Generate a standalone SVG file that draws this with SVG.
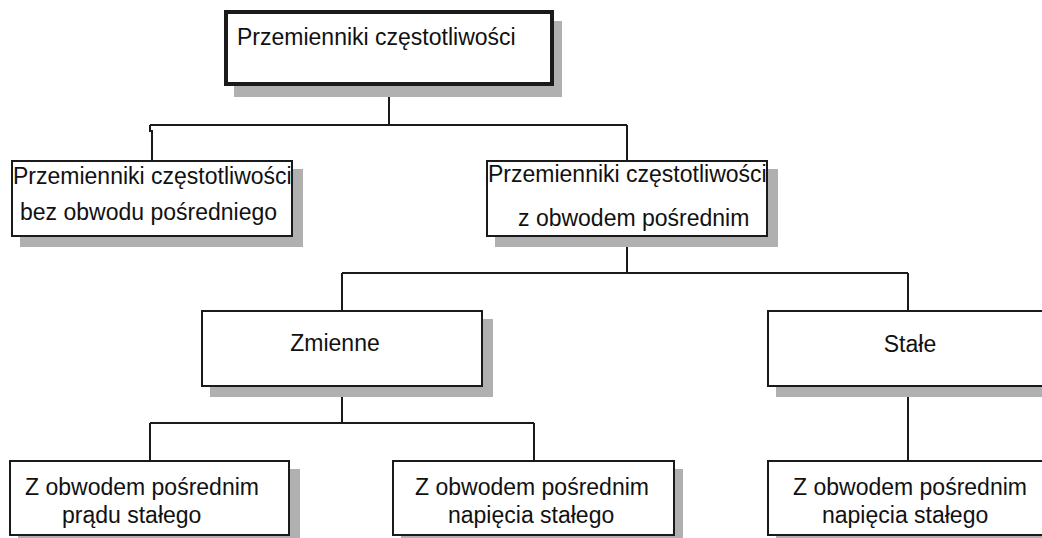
<svg xmlns="http://www.w3.org/2000/svg" width="1042" height="538" viewBox="0 0 1042 538">
<style>
.box{fill:#fff;stroke:#1a1a1a;stroke-width:2}
.thick{stroke-width:4}
.sh{fill:#b0b0b0;stroke:none}
.t{font-family:"Liberation Sans",Arial,sans-serif;font-size:23px;fill:#111}
.c{text-anchor:middle}
.ln{fill:none;stroke:#1a1a1a;stroke-width:2}
</style>
<rect width="1042" height="538" fill="#fff"/>
<g id="connectors">
<path class="ln" d="M389 84 V125 M150 125 H627 M150 125 V131 H152 V161 M627 125 V161"/>
<path class="ln" d="M627 236 V273 M342 273 H908 M342 273 V311 M908 273 V311"/>
<path class="ln" d="M342 386 V423 M150 423 H534 M150 423 V461 M534 423 V461"/>
<path class="ln" d="M908 386 V461"/>
</g>
<g id="root">
<rect class="sh" x="234" y="21" width="328" height="76"/>
<rect class="box thick" x="226" y="12" width="326" height="72"/>
<text class="t" x="237" y="45">Przemienniki częstotliwości</text>
</g>
<g id="bez">
<rect class="sh" x="20" y="169" width="283" height="78"/>
<rect class="box" x="12" y="161" width="280" height="75"/>
<text class="t" x="13" y="184">Przemienniki częstotliwości</text>
<text class="t" x="20" y="220">bez obwodu pośredniego</text>
</g>
<g id="z">
<rect class="sh" x="495" y="169" width="283" height="78"/>
<rect class="box" x="487" y="161" width="280" height="75"/>
<text class="t" x="488" y="182">Przemienniki częstotliwości</text>
<text class="t" x="518" y="226">z obwodem pośrednim</text>
</g>
<g id="zmienne">
<rect class="sh" x="210" y="319" width="283" height="78"/>
<rect class="box" x="202" y="311" width="280" height="75"/>
<text class="t c" x="335" y="351">Zmienne</text>
</g>
<g id="stale">
<rect class="sh" x="776" y="319" width="290" height="78"/>
<rect class="box" x="768" y="311" width="290" height="75"/>
<text class="t c" x="910" y="352">Stałe</text>
</g>
<g id="pradu">
<rect class="sh" x="18" y="469" width="282" height="78"/>
<rect class="box" x="10" y="461" width="279" height="74"/>
<text class="t" x="25" y="495">Z obwodem pośrednim</text>
<text class="t" x="62" y="523">prądu stałego</text>
</g>
<g id="napiecia1">
<rect class="sh" x="401" y="469" width="282" height="78"/>
<rect class="box" x="393" y="461" width="281" height="74"/>
<text class="t" x="415" y="495">Z obwodem pośrednim</text>
<text class="t" x="448" y="523">napięcia stałego</text>
</g>
<g id="napiecia2">
<rect class="sh" x="776" y="469" width="290" height="78"/>
<rect class="box" x="768" y="461" width="290" height="74"/>
<text class="t" x="793" y="495">Z obwodem pośrednim</text>
<text class="t" x="822" y="523">napięcia stałego</text>
</g>
</svg>
